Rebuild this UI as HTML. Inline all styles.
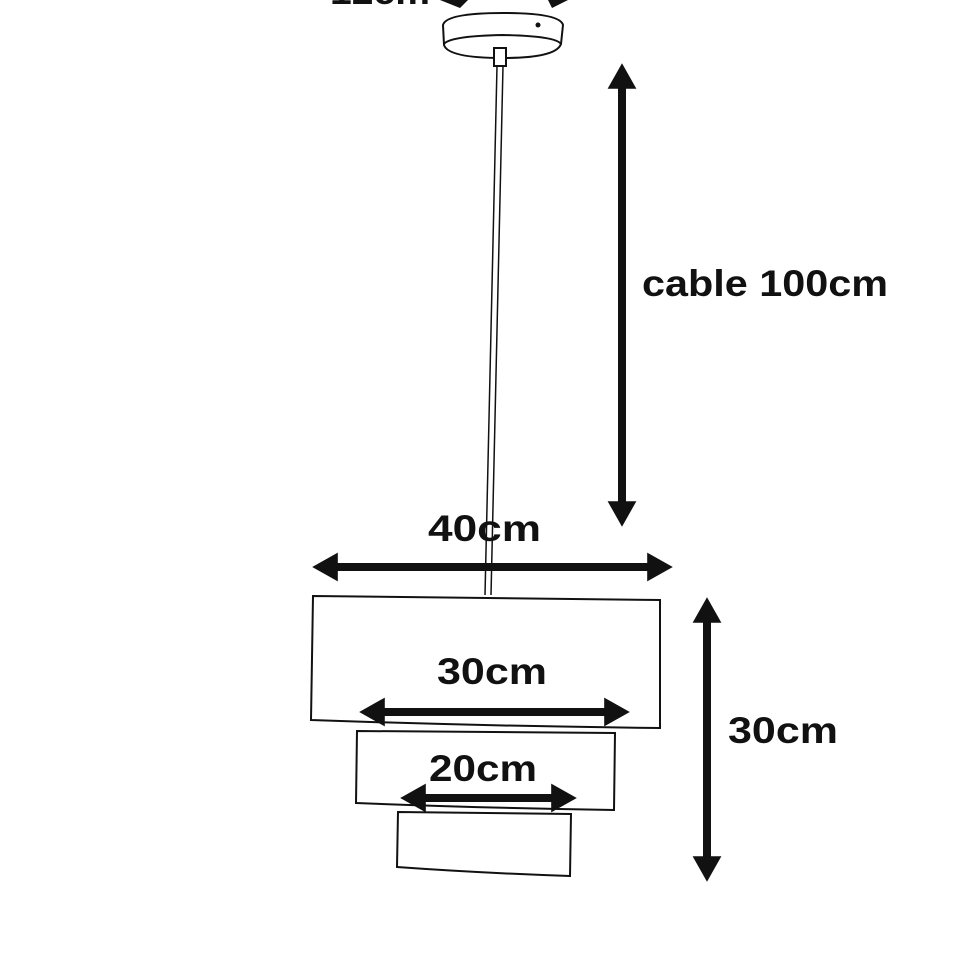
<!DOCTYPE html>
<html><head><style>body{margin:0;background:#fff}svg{display:block}text{font-family:"Liberation Sans",sans-serif;font-weight:bold;fill:#111}</style></head>
<body>
<svg width="970" height="971" viewBox="0 0 970 971" xmlns="http://www.w3.org/2000/svg">
<defs>
<marker id="a" markerWidth="4" markerHeight="4" refX="1.6" refY="2" orient="auto-start-reverse" markerUnits="strokeWidth"><path d="M0,0.2 L3.2,2 L0,3.8 Z" fill="#111"/></marker>
</defs>
<g fill="none" stroke="#111" stroke-width="2">
<path d="M443,25 Q446,13 503,13 Q560,13 563,25 L561,44 Q556,58 503,58 Q448,58 444,45 Z"/>
<path d="M444,44 Q450,36 503,35 Q556,36 561,44"/>
<rect x="494" y="48" width="12" height="18" fill="#fff"/>
<line x1="497" y1="66" x2="485" y2="595" stroke-width="1.5"/>
<line x1="503" y1="66" x2="491" y2="595" stroke-width="1.5"/>
<path d="M313,596 L660,600 L660,728 Q480,726 311,720 Z" fill="#fff"/>
<path d="M357,731 L615,733 L614,810 Q480,808 356,803 Z" fill="#fff"/>
<path d="M398,812 L571,814 L570,876 Q480,873 397,867 Z" fill="#fff"/>
</g>
<circle cx="538" cy="25" r="2.5" fill="#111"/>
<g stroke="#111" stroke-width="8" fill="none" marker-start="url(#a)" marker-end="url(#a)">
<line x1="622" y1="76" x2="622" y2="514"/>
<line x1="325" y1="567" x2="660" y2="567"/>
<line x1="372" y1="712" x2="617" y2="712"/>
<line x1="413" y1="798" x2="564" y2="798"/>
<line x1="707" y1="610" x2="707" y2="869"/>
</g>
<g fill="#111">
<path d="M440,0 L468,0 L460,8 Z"/>
<path d="M548,0 L568,0 L552,8 Z"/>
</g>
<text x="330" y="4" font-size="36" textLength="100" lengthAdjust="spacingAndGlyphs">12cm</text>
<text x="642" y="296" font-size="37" textLength="246" lengthAdjust="spacingAndGlyphs">cable 100cm</text>
<text x="428" y="541" font-size="37" textLength="113" lengthAdjust="spacingAndGlyphs">40cm</text>
<text x="437" y="684" font-size="37" textLength="110" lengthAdjust="spacingAndGlyphs">30cm</text>
<text x="429" y="781" font-size="37" textLength="108" lengthAdjust="spacingAndGlyphs">20cm</text>
<text x="728" y="743" font-size="37" textLength="110" lengthAdjust="spacingAndGlyphs">30cm</text>
</svg>
</body></html>
